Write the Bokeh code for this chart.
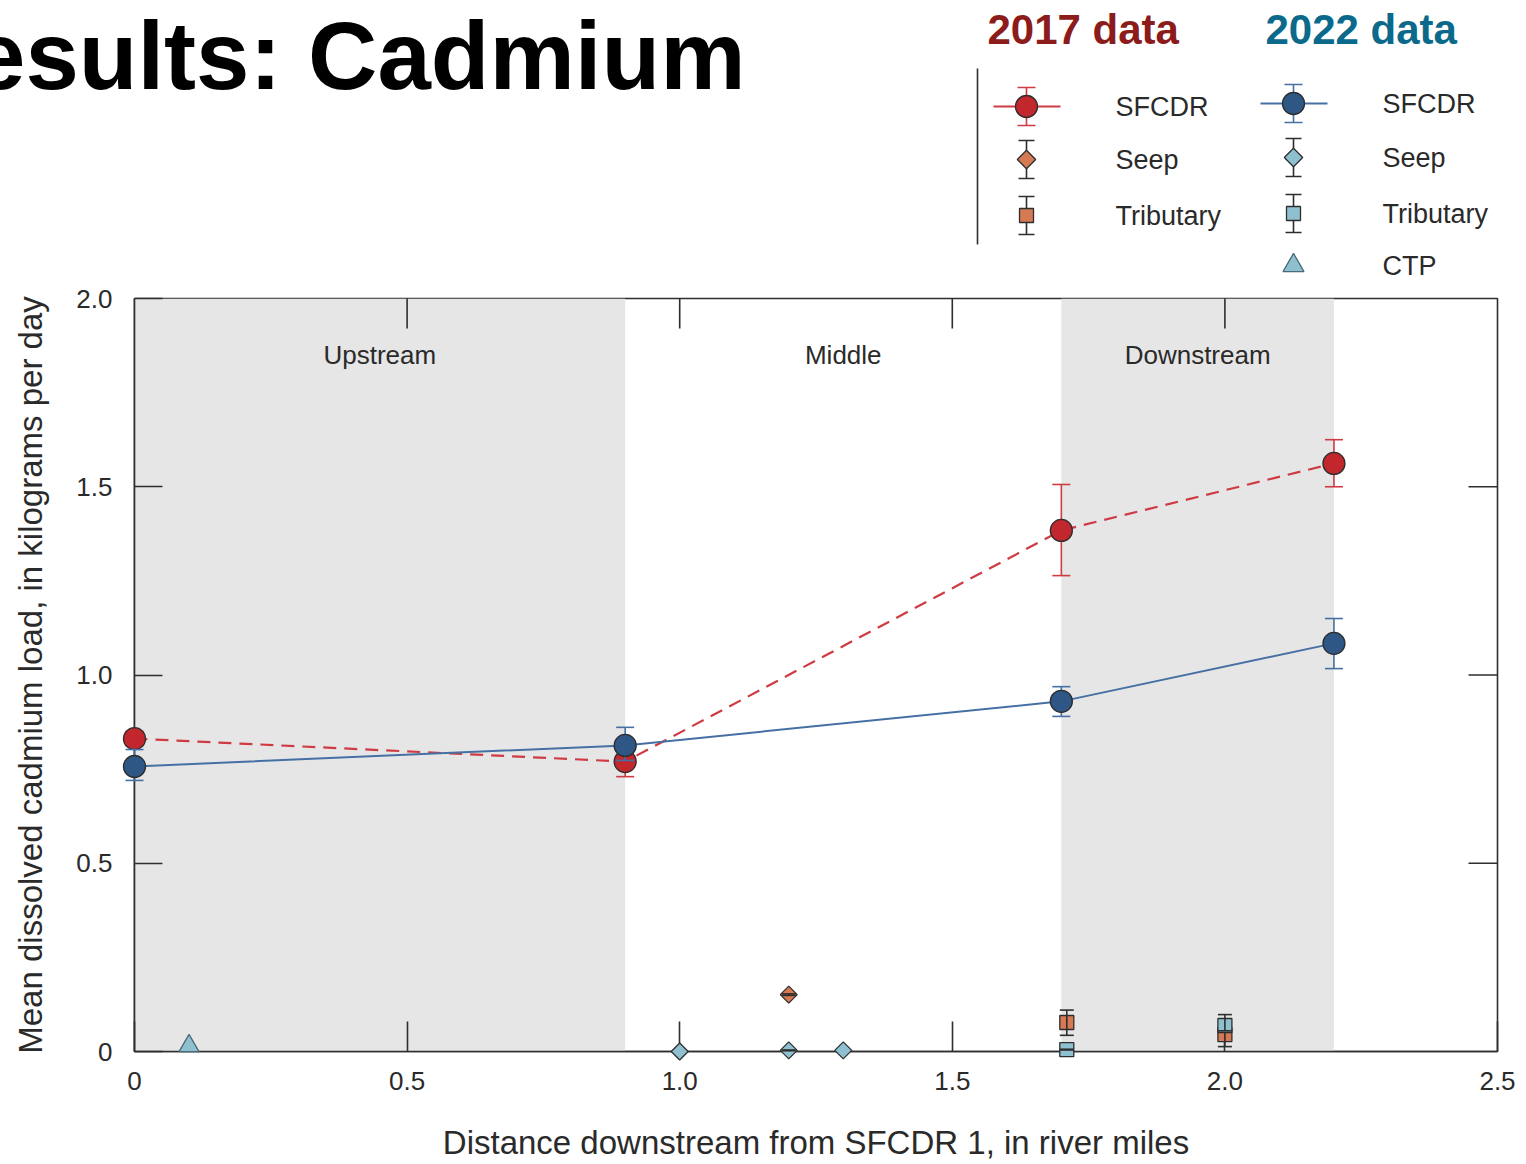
import math

from bokeh.core.properties import value
from bokeh.embed import file_html
from bokeh.layouts import column
from bokeh.models import BoxAnnotation, FixedTicker, Range1d
from bokeh.plotting import figure
from bokeh.resources import INLINE

# ---------------------------------------------------------------- data
# South Fork Coeur d'Alene River (SFCDR) main-stem sites, river miles
sfcdr_miles = [0.0, 0.9, 1.7, 2.2]
sfcdr_2017 = [0.831, 0.770, 1.384, 1.562]
sfcdr_2017_lo = [0.812, 0.730, 1.264, 1.500]
sfcdr_2017_hi = [0.850, 0.810, 1.506, 1.625]
sfcdr_2022 = [0.757, 0.813, 0.930, 1.084]
sfcdr_2022_lo = [0.720, 0.773, 0.890, 1.017]
sfcdr_2022_hi = [0.802, 0.861, 0.969, 1.150]

seep_2017_miles = [1.2]
seep_2017 = [0.151]
seep_2017_lo = [0.149]
seep_2017_hi = [0.153]

seep_2022_miles = [1.0, 1.2, 1.3]
seep_2022 = [0.0, 0.003, 0.003]
seep_2022_lo = [0.0, 0.002, 0.003]
seep_2022_hi = [0.0, 0.004, 0.003]

trib_2017_miles = [1.71, 2.0]
trib_2017 = [0.077, 0.045]
trib_2017_lo = [0.043, 0.013]
trib_2017_hi = [0.110, 0.060]

trib_2022_miles = [1.71, 2.0]
trib_2022 = [0.005, 0.069]
trib_2022_lo = [0.004, 0.055]
trib_2022_hi = [0.006, 0.098]

ctp_2022_miles = [0.1]
ctp_2022 = [0.015]

reach_names = ["Upstream", "Middle", "Downstream"]
reach_edges = [0.0, 0.9, 1.7, 2.2]
shaded_reaches = [0, 2]

x_ticks = [0, 0.5, 1.0, 1.5, 2.0, 2.5]
x_tick_labels = ["0", "0.5", "1.0", "1.5", "2.0", "2.5"]
y_ticks = [0, 0.5, 1.0, 1.5, 2.0]
y_tick_labels = ["0", "0.5", "1.0", "1.5", "2.0"]

title_text = "Results: Cadmium"
year_titles = ["2017 data", "2022 data"]
legend_2017 = ["SFCDR", "Seep", "Tributary"]
legend_2022 = ["SFCDR", "Seep", "Tributary", "CTP"]

# ---------------------------------------------------------------- styles
SANS = "Liberation Sans"
TEXT = "#2a2a2a"
EDGE = "#2e2e2e"
RED = "#c1272d"
RED_LINE = "#cf3b43"
BLUE = "#2e5786"
BLUE_LINE = "#4670a3"
ORANGE = "#d57a52"
LIGHT_BLUE = "#8fc0d0"
BAND = "#e6e6e6"
CAP = 18

LEFT, RIGHT = 134, 29          # frame borders shared by both panels
PAGE_W = 1526
HEAD_H = 280


def error_bars(fig, xs, lo, hi, color, width=1.6, cap=CAP, level="glyph"):
    keep = [i for i in range(len(xs)) if hi[i] > lo[i]]
    if not keep:
        return
    ex = [xs[i] for i in keep]
    elo = [lo[i] for i in keep]
    ehi = [hi[i] for i in keep]
    rs = [
        fig.segment(x0=ex, y0=elo, x1=ex, y1=ehi, line_color=color, line_width=width),
        fig.scatter(x=ex, y=elo, marker="dash", size=cap, line_color=color, line_width=width),
        fig.scatter(x=ex, y=ehi, marker="dash", size=cap, line_color=color, line_width=width),
    ]
    for r in rs:
        r.level = level


# ---------------------------------------------------------------- header (title + legend)
# the header panel uses pixel coordinates: x and y equal page pixels
top = figure(width=PAGE_W, height=HEAD_H,
             x_range=Range1d(LEFT, PAGE_W - RIGHT), y_range=Range1d(HEAD_H, 0),
             output_backend="svg", toolbar_location=None,
             min_border_left=LEFT, min_border_right=RIGHT, min_border_top=0, min_border_bottom=0,
             x_axis_type=None, y_axis_type=None, outline_line_color=None)
top.xgrid.visible = False
top.ygrid.visible = False

# the title runs past the panel's left edge, so it is drawn unclipped
title = top.text(x=[745], y=[55], text=[title_text], text_align="right", text_baseline="middle",
                 text_font=value(SANS), text_font_style="bold", text_font_size="96px",
                 text_color="#000000")
title.level = "overlay"

top.text(x=[987, 1265], y=[29, 29], text=year_titles, text_align="left", text_baseline="middle",
         text_font=value(SANS), text_font_style="bold", text_font_size="42px",
         text_color=["#8c1b1b", "#0b6a8b"])

top.segment(x0=[977], y0=[68], x1=[977], y1=[244], line_color=EDGE, line_width=1.6)


def legend_column(fig, lx, tx, rows, labels, main_fill, main_line, small_fill, with_ctp):
    r0 = rows[0]
    fig.segment(x0=[lx - 33, lx + 11], y0=[r0] * 2, x1=[lx - 11, lx + 34], y1=[r0] * 2,
                line_color=main_line, line_width=1.8)
    fig.segment(x0=[lx], y0=[r0 - 19], x1=[lx], y1=[r0 + 19], line_color=main_line, line_width=1.6)
    fig.scatter(x=[lx, lx], y=[r0 - 19, r0 + 19], marker="dash", size=CAP,
                line_color=main_line, line_width=1.6)
    fig.scatter(x=[lx], y=[r0], marker="circle", size=22, fill_color=main_fill,
                line_color=EDGE, line_width=1.3)
    for r in rows[1:3]:
        fig.segment(x0=[lx], y0=[r - 19], x1=[lx], y1=[r + 19], line_color=EDGE, line_width=1.6)
        fig.scatter(x=[lx, lx], y=[r - 19, r + 19], marker="dash", size=CAP - 2,
                    line_color=EDGE, line_width=1.6)
    fig.scatter(x=[lx], y=[rows[1]], marker="square", angle=math.pi / 4, size=13,
                fill_color=small_fill, line_color=EDGE, line_width=1.3)
    fig.scatter(x=[lx], y=[rows[2]], marker="square", size=14,
                fill_color=small_fill, line_color=EDGE, line_width=1.3)
    if with_ctp:
        fig.scatter(x=[lx], y=[rows[3]], marker="triangle", size=21,
                    fill_color=LIGHT_BLUE, line_color="#4a6a78", line_width=1.3)
    fig.text(x=[tx] * len(labels), y=rows, text=labels, text_baseline="middle", text_align="left",
             text_font=value(SANS), text_font_size="27px", text_color=TEXT)


legend_column(top, 1026, 1115, [106, 159, 215], legend_2017, RED, RED_LINE, ORANGE, False)
legend_column(top, 1293, 1382, [103, 157, 213, 265], legend_2022, BLUE, BLUE_LINE, LIGHT_BLUE, True)

# ---------------------------------------------------------------- main chart
p = figure(width=PAGE_W, height=1164 - HEAD_H, x_range=Range1d(0, 2.5), y_range=Range1d(0, 2.0),
           output_backend="svg", toolbar_location=None,
           min_border_left=LEFT, min_border_right=RIGHT, min_border_top=298 - HEAD_H,
           min_border_bottom=113, outline_line_color=EDGE, outline_line_width=1.6)
p.xgrid.visible = False
p.ygrid.visible = False

for i in shaded_reaches:
    p.add_layout(BoxAnnotation(left=reach_edges[i], right=reach_edges[i + 1],
                               fill_color=BAND, fill_alpha=1.0, line_color=None, level="underlay"))

reach_centers = [(reach_edges[i] + reach_edges[i + 1]) / 2 for i in range(len(reach_names))]
p.text(x=reach_centers, y=[1.851] * 3, text=reach_names, text_align="center", text_baseline="middle",
       text_font=value(SANS), text_font_size="26px", text_color=TEXT)

for ax in (p.xaxis[0], p.yaxis[0]):
    ax.major_label_text_font = SANS
    ax.major_label_text_font_size = "26px"
    ax.major_label_text_color = TEXT
    ax.axis_label_text_font = SANS
    ax.axis_label_text_font_size = "33px"
    ax.axis_label_text_font_style = "normal"
    ax.axis_label_text_color = TEXT
    ax.axis_line_color = EDGE
    ax.axis_line_width = 1.6
    ax.major_tick_line_color = EDGE
    ax.major_tick_line_width = 1.6
    ax.major_tick_out = 0
    ax.minor_tick_line_color = None

p.xaxis[0].ticker = FixedTicker(ticks=x_ticks)
p.xaxis[0].major_label_overrides = dict(zip(x_ticks, x_tick_labels))
p.xaxis[0].major_tick_in = 30
p.xaxis[0].major_label_standoff = 20
p.xaxis[0].axis_label = "Distance downstream from SFCDR 1, in river miles"
p.xaxis[0].axis_label_standoff = 31

p.yaxis[0].ticker = FixedTicker(ticks=y_ticks)
p.yaxis[0].major_label_overrides = dict(zip(y_ticks, y_tick_labels))
p.yaxis[0].major_tick_in = 28
p.yaxis[0].major_label_standoff = 22
p.yaxis[0].axis_label = "Mean dissolved cadmium load, in kilograms per day"
p.yaxis[0].axis_label_standoff = 24

# inward ticks on the top and right edges: the outer half of each dash falls
# outside the frame and is clipped away
p.scatter(x=x_ticks[1:-1], y=[2.0] * (len(x_ticks) - 2), marker="dash", angle=math.pi / 2,
          size=60, line_color=EDGE, line_width=1.6)
p.scatter(x=[2.5] * (len(y_ticks) - 2), y=y_ticks[1:-1], marker="dash",
          size=58, line_color=EDGE, line_width=1.6)

# 2017 main stem
p.line(sfcdr_miles, sfcdr_2017, line_color=RED_LINE, line_width=2.2, line_dash="13 8")
error_bars(p, sfcdr_miles, sfcdr_2017_lo, sfcdr_2017_hi, RED_LINE, level="overlay")
r = p.scatter(sfcdr_miles, sfcdr_2017, marker="circle", size=22, fill_color=RED,
              line_color=EDGE, line_width=1.3)
r.level = "overlay"

# 2022 main stem
p.line(sfcdr_miles, sfcdr_2022, line_color=BLUE_LINE, line_width=2.0)
error_bars(p, sfcdr_miles, sfcdr_2022_lo, sfcdr_2022_hi, BLUE_LINE, level="overlay")
r = p.scatter(sfcdr_miles, sfcdr_2022, marker="circle", size=22, fill_color=BLUE,
              line_color=EDGE, line_width=1.3)
r.level = "overlay"


def small_points(xs, ys, lo, hi, marker, fill, size, angle=0.0):
    rr = p.scatter(xs, ys, marker=marker, angle=angle, size=size,
                   fill_color=fill, line_color=EDGE, line_width=1.3)
    rr.level = "overlay"
    error_bars(p, xs, lo, hi, EDGE, cap=14, level="overlay")


small_points(seep_2017_miles, seep_2017, seep_2017_lo, seep_2017_hi, "square", ORANGE, 12, math.pi / 4)
small_points(seep_2022_miles, seep_2022, seep_2022_lo, seep_2022_hi, "square", LIGHT_BLUE, 12, math.pi / 4)
small_points(trib_2017_miles, trib_2017, trib_2017_lo, trib_2017_hi, "square", ORANGE, 14)
small_points(trib_2022_miles, trib_2022, trib_2022_lo, trib_2022_hi, "square", LIGHT_BLUE, 14)

r = p.scatter(ctp_2022_miles, ctp_2022, marker="triangle", size=20,
              fill_color=LIGHT_BLUE, line_color="#4a6a78", line_width=1.3)
r.level = "overlay"

layout = column(top, p, spacing=0)
open("out.html", "w").write(file_html(layout, INLINE))
